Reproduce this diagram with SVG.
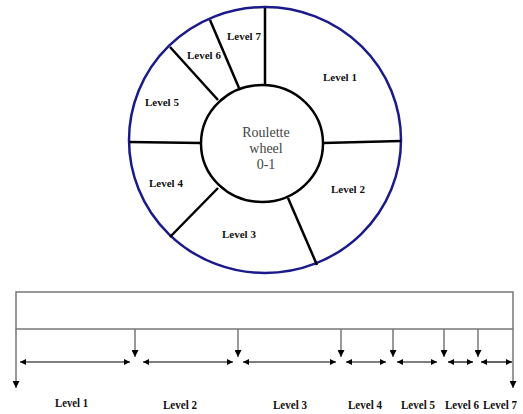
<svg xmlns="http://www.w3.org/2000/svg" width="523" height="414" viewBox="0 0 523 414">
<style>
.spoke{stroke:#000;stroke-width:2.5;fill:none}
.wl{font-family:"Liberation Serif",serif;font-weight:bold;font-size:11px;fill:#111}
.bl{font-family:"Liberation Serif",serif;font-weight:bold;font-size:13px;fill:#111}
.ctr{font-family:"Liberation Serif",serif;font-size:14px;fill:#444;text-anchor:middle}
.gray{stroke:#777;stroke-width:1.5;fill:none}
.dbl{stroke:#000;stroke-width:1.2;fill:none}
</style>
<defs>
<marker id="ah" viewBox="0 0 10 10" refX="10" refY="5" markerWidth="7" markerHeight="6" markerUnits="userSpaceOnUse" orient="auto-start-reverse">
<path d="M0,0 L10,5 L0,10 z" fill="#000"/>
</marker>
<marker id="ahd" viewBox="0 0 10 10" refX="10" refY="5" markerWidth="8" markerHeight="7" markerUnits="userSpaceOnUse" orient="auto">
<path d="M0,0 L10,5 L0,10 z" fill="#000"/>
</marker>
</defs>
<g id="wheel">
<ellipse cx="265" cy="140" rx="136" ry="133" fill="#fff" stroke="#1a1a8a" stroke-width="2.5"/>
<ellipse cx="262" cy="143.5" rx="61" ry="58.5" fill="#fff" stroke="#000" stroke-width="2.5"/>
</g>
<g id="spokes">
<line class="spoke" x1="265" y1="8" x2="265" y2="85"/>
<line class="spoke" x1="210" y1="20" x2="239" y2="88"/>
<line class="spoke" x1="170" y1="47" x2="218" y2="100"/>
<line class="spoke" x1="129" y1="142" x2="201" y2="143"/>
<line class="spoke" x1="323" y1="143" x2="401" y2="141"/>
<line class="spoke" x1="218" y1="188" x2="170" y2="237"/>
<line class="spoke" x1="288" y1="198" x2="317" y2="265"/>
</g>
<g id="wheel-labels">
<text class="wl" x="227" y="40">Level 7</text>
<text class="wl" x="187" y="59">Level 6</text>
<text class="wl" x="323" y="81">Level 1</text>
<text class="wl" x="145" y="106">Level 5</text>
<text class="wl" x="149" y="187">Level 4</text>
<text class="wl" x="331" y="193">Level 2</text>
<text class="wl" x="222" y="238">Level 3</text>
</g>
<g id="center-label">
<text class="ctr" x="266" y="137">Roulette</text>
<text class="ctr" x="266" y="153">wheel</text>
<text class="ctr" x="266" y="169">0-1</text>
</g>
<g id="bar">
<rect class="gray" x="16" y="292" width="497" height="37"/>
</g>
<g id="connectors">
<line class="gray" x1="16" y1="329" x2="16" y2="388" marker-end="url(#ahd)"/>
<line class="gray" x1="513" y1="329" x2="513" y2="388" marker-end="url(#ahd)"/>
<line class="gray" x1="135" y1="329" x2="135" y2="357" marker-end="url(#ahd)"/>
<line class="gray" x1="238" y1="329" x2="238" y2="357" marker-end="url(#ahd)"/>
<line class="gray" x1="341" y1="329" x2="341" y2="357" marker-end="url(#ahd)"/>
<line class="gray" x1="393" y1="329" x2="393" y2="357" marker-end="url(#ahd)"/>
<line class="gray" x1="444" y1="329" x2="444" y2="357" marker-end="url(#ahd)"/>
<line class="gray" x1="478" y1="329" x2="478" y2="357" marker-end="url(#ahd)"/>
<line class="dbl" x1="20" y1="362" x2="130" y2="362" marker-start="url(#ah)" marker-end="url(#ah)"/>
<line class="dbl" x1="143" y1="362" x2="233" y2="362" marker-start="url(#ah)" marker-end="url(#ah)"/>
<line class="dbl" x1="243" y1="362" x2="336" y2="362" marker-start="url(#ah)" marker-end="url(#ah)"/>
<line class="dbl" x1="346" y1="362" x2="386" y2="362" marker-start="url(#ah)" marker-end="url(#ah)"/>
<line class="dbl" x1="397" y1="362" x2="437" y2="362" marker-start="url(#ah)" marker-end="url(#ah)"/>
<line class="dbl" x1="448" y1="362" x2="473" y2="362" marker-start="url(#ah)" marker-end="url(#ah)"/>
<line class="dbl" x1="481" y1="362" x2="512" y2="362" marker-start="url(#ah)" marker-end="url(#ah)"/>
</g>
<g id="bar-labels">
<text class="bl" x="55" y="407" textLength="33" lengthAdjust="spacingAndGlyphs">Level 1</text>
<text class="bl" x="163" y="409" textLength="34" lengthAdjust="spacingAndGlyphs">Level 2</text>
<text class="bl" x="273" y="409" textLength="34" lengthAdjust="spacingAndGlyphs">Level 3</text>
<text class="bl" x="348" y="409" textLength="34" lengthAdjust="spacingAndGlyphs">Level 4</text>
<text class="bl" x="401" y="409" textLength="34" lengthAdjust="spacingAndGlyphs">Level 5</text>
<text class="bl" x="445" y="409" textLength="34" lengthAdjust="spacingAndGlyphs">Level 6</text>
<text class="bl" x="483" y="409" textLength="34" lengthAdjust="spacingAndGlyphs">Level 7</text>
</g>
</svg>
